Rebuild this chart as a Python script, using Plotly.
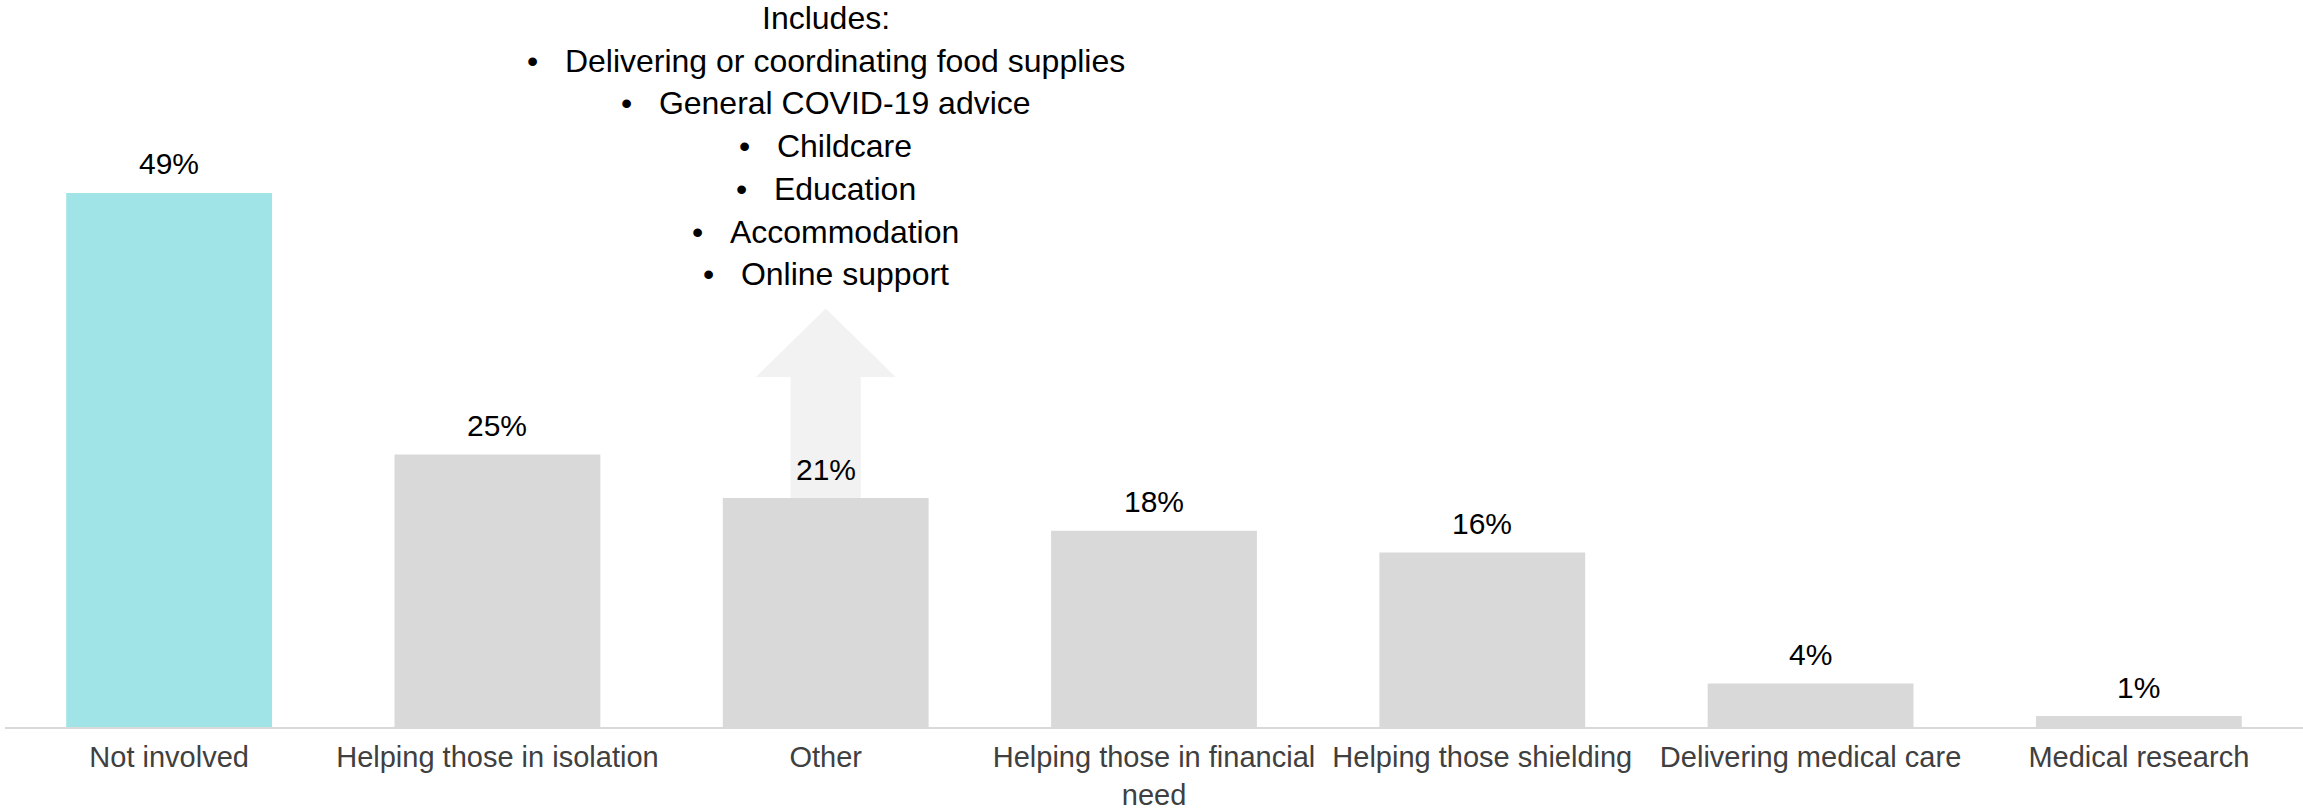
import plotly.graph_objects as go

categories = ["Not involved", "Helping those in isolation", "Other",
              "Helping those in financial<br>need", "Helping those shielding",
              "Delivering medical care", "Medical research"]
values = [49, 25, 21, 18, 16, 4, 1]
value_labels = ["49%", "25%", "21%", "18%", "16%", "4%", "1%"]
bar_colors = ["#a0e4e8", "#d9d9d9", "#d9d9d9", "#d9d9d9", "#d9d9d9", "#d9d9d9", "#d9d9d9"]

other_includes = ["Delivering or coordinating food supplies", "General COVID-19 advice",
                  "Childcare", "Education", "Accommodation", "Online support"]

FONT = "Liberation Sans, Arial, sans-serif"

fig = go.Figure(go.Bar(
    x=categories, y=values, marker_color=bar_colors, marker_line_width=0,
    width=0.627, showlegend=False, hoverinfo="skip"))

# value labels above bars
for c, v, t in zip(categories, values, value_labels):
    fig.add_annotation(x=c, y=v, text=t, showarrow=False, xanchor="center",
                       yanchor="middle", yshift=29,
                       font=dict(family=FONT, size=30, color="#000000"))

# arrow behind the "Other" bar
oi = categories.index("Other")
shaft_half, head_half = 0.107, 0.213
head_base, tip = 32.1, 38.4
base = values[oi]
path = (f"M {oi-shaft_half},{base} L {oi-shaft_half},{head_base} L {oi-head_half},{head_base} "
        f"L {oi},{tip} L {oi+head_half},{head_base} L {oi+shaft_half},{head_base} "
        f"L {oi+shaft_half},{base} Z")
fig.add_shape(type="path", path=path, xref="x", yref="y", layer="below",
              fillcolor="#f2f2f2", line=dict(width=0))

nb = "\u00a0"
lines = ["Includes:"] + [f"•{nb*3}{s}" for s in other_includes]
top_line_y, line_step = 65.05, 3.92
for i, ln in enumerate(lines):
    fig.add_annotation(x=oi, y=top_line_y - i * line_step, xref="x", yref="y", text=ln,
                       showarrow=False, align="center", xanchor="center", yanchor="middle",
                       borderpad=0,
                       font=dict(family=FONT, size=32, color="#000000"))

fig.update_layout(
    width=2303, height=812,
    margin=dict(l=5, r=0, t=0, b=85),
    plot_bgcolor="white", paper_bgcolor="white",
    xaxis=dict(showline=True, linecolor="#d9d9d9", linewidth=2, ticks="",
               showgrid=False, tickfont=dict(family=FONT, size=29, color="#404040"),
               tickangle=0, ticklabelstandoff=3, automargin=False),
    yaxis=dict(visible=False, range=[0, 66.7], showgrid=False, zeroline=False),
)

fig.write_html("out.html")
